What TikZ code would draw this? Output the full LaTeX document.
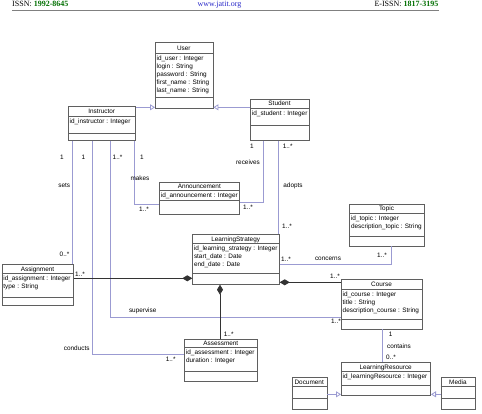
\documentclass[tikz,border=0pt]{standalone}
\usepackage{fontspec}
\setmainfont{Liberation Serif}
\setsansfont{Liberation Sans}
\usetikzlibrary{arrows.meta}

\definecolor{boxgray}{RGB}{95,95,95}
\definecolor{assoc}{RGB}{155,155,210}
\definecolor{issngreen}{RGB}{0,110,0}
\definecolor{linkblue}{RGB}{40,40,200}

% class box: name, left, top, right, bottom, name line, attribute line, title, attributes
\newcommand{\umlclass}[9]{%
  \node[classbox, anchor=north west, minimum width={(#4-#2)*1pt}, minimum height={(#5-#3)*1pt}] (#1) at (#2,#3) {};
  \draw[boxline] (#2,#6) -- (#4,#6) (#2,#7) -- (#4,#7);
  \node[classname] (#1-title) at ({(#2+#4)/2},{(#3+#6)/2}) {#8};
  \node[attrs] (#1-attrs) at (#2+1.5,#6+2.3) {#9};
}

\begin{document}
\begin{tikzpicture}[x=1pt,y=-1pt,
    every node/.style={font=\sffamily\fontsize{6.4}{8}\selectfont},
    boxline/.style={draw=boxgray, line width=0.7pt},
    classbox/.style={boxline, fill=white, rectangle, inner sep=0pt},
    classname/.style={inner sep=0pt, text height=4.6pt, text depth=0pt},
    attrs/.style={anchor=north west, inner sep=0pt, align=left},
    assoc/.style={draw=assoc, line width=0.8pt},
    inherit/.style={assoc, -{Triangle[open, length=5pt, width=6pt]}},
    compo/.style={draw=black!80, line width=0.8pt, -{Diamond[length=10pt, width=6pt]}},
    mult/.style={inner sep=0pt}]
  \useasboundingbox (0,0) rectangle (482,414);

  % page header
  \node[anchor=base west, inner sep=0pt, font=\rmfamily\fontsize{8}{9}\selectfont] (issn) at (12,7)
    {ISSN: \textcolor{issngreen}{\textbf{1992-8645}}};
  \node[anchor=base, inner sep=0pt, font=\rmfamily\fontsize{8}{9}\selectfont, text=linkblue] (site) at (219.5,7)
    {\underline{www.jatit.org}};
  \node[anchor=base east, inner sep=0pt, font=\rmfamily\fontsize{8}{9}\selectfont] (eissn) at (438.5,7)
    {E-ISSN: \textcolor{issngreen}{\textbf{1817-3195}}};
  \draw[gray, line width=0.8pt] (issn.base west |- 0,10.5) coordinate (h0) -- (h0 -| eissn.east);

  % classes
  \umlclass{user}{155}{42.3}{212.7}{107.7}{53.3}{97.3}{User}
    {id\_user : Integer\\login : String\\password : String\\first\_name : String\\last\_name : String}
  \umlclass{instr}{68}{106}{135.3}{140}{116.3}{133.3}{Instructor}{id\_instructor : Integer}
  \umlclass{student}{250.3}{98.7}{308.7}{140}{108.3}{125.3}{Student}{id\_student : Integer}
  \umlclass{ann}{159.3}{181.7}{239.3}{214}{190}{200.7}{Announcement}{id\_announcement : Integer}
  \umlclass{topic}{349.3}{204}{423.7}{245.7}{213.3}{236}{Topic}
    {id\_topic : Integer\\description\_topic : String}
  \umlclass{ls}{192.3}{234.3}{279}{284}{243.3}{273.3}{LearningStrategy}
    {id\_learning\_strategy : Integer\\start\_date : Date\\end\_date : Date}
  \umlclass{assign}{1.7}{264.3}{73.3}{305}{273.3}{297.7}{Assignment}
    {id\_assignment : Integer\\type : String}
  \umlclass{course}{341}{279.3}{422}{328.7}{289.3}{319}{Course}
    {id\_course : Integer\\title : String\\description\_course : String}
  \umlclass{assess}{184.3}{339.3}{257.3}{380.7}{347.3}{371.7}{Assessment}
    {id\_assessment : Integer\\duration : Integer}
  \umlclass{lr}{341}{361.7}{430.3}{395.3}{371.7}{385.5}{LearningResource}{id\_learningResource : Integer}
  \umlclass{doc}{291.7}{377.3}{326.7}{409}{386.3}{398.3}{Document}{}
  \umlclass{media}{440.5}{377.3}{475.3}{409}{386.3}{398.3}{Media}{}

  % generalisations
  \coordinate (i0) at ([yshift=-1.3pt]instr.north east);
  \coordinate (s0) at ([yshift=-8.6pt]student.north west);
  \draw[inherit] (i0) -- (i0 -| user.west);
  \draw[inherit] (s0) -- (s0 -| user.east);
  \coordinate (r0) at ([yshift=1.7pt]lr.south west);
  \coordinate (r1) at ([yshift=1.7pt]lr.south east);
  \draw[inherit] (r0 -| doc.east) -- (r0);
  \draw[inherit] (r1 -| media.west) -- (r1);

  % associations from Instructor
  \coordinate (i1) at ([xshift=4.6pt]instr.south west);
  \coordinate (i2) at ([xshift=24.7pt]instr.south west);
  \coordinate (i3) at ([xshift=42pt]instr.south west);
  \coordinate (i4) at ([xshift=-1.3pt]instr.south east);
  \draw[assoc] (i1) -- (i1 |- assign.north);
  \draw[assoc] (i2) |- ([yshift=-15pt]assess.north west);
  \draw[assoc] (i3) |- ([yshift=12pt]course.south west);
  \draw[assoc] (i4) |- ([yshift=-22.3pt]ann.north west);

  % associations from Student
  \coordinate (s1) at ([xshift=12.6pt]student.south west);
  \coordinate (s2) at ([xshift=28pt]student.south west);
  \draw[assoc] (s1) |- ([yshift=-20.6pt]ann.north east);
  \draw[assoc] (s2) -- (s2 |- ls.north);

  \draw[assoc] ([yshift=-29.7pt]ls.north east) -| ([xshift=42pt]topic.south west);
  \coordinate (c1) at ([xshift=41.7pt]course.south west);
  \draw[assoc] (c1) -- (c1 |- lr.north);

  % compositions on LearningStrategy
  \coordinate (a0) at ([yshift=-14pt]assign.north east);
  \draw[compo] (a0) -- (a0 -| ls.west);
  \coordinate (l1) at ([xshift=27.7pt]ls.south west);
  \draw[compo] (l1 |- assess.north) -- (l1);
  \coordinate (c0) at ([yshift=-3pt]course.north west);
  \draw[compo] (c0) -- (c0 -| ls.east);

  % multiplicities
  \foreach \x/\y/\t [count=\i] in {62/157/1, 83.3/157/1, 117.5/157/1..*, 142/157/1,
      64.5/254/0..*, 144/209/1..*, 252/146.7/1, 287.7/146.7/1..*, 248/207/1..*,
      287/226/1..*, 286/259/1..*, 382/255/1..*, 80/274/1..*, 170.7/359.3/1..*,
      228.7/334/1..*, 335/276.7/1..*, 336/321.7/1..*, 390.7/334/1, 391/357.7/0..*}
    \node[mult] (m\i) at (\x,\y) {\t};

  % association names
  \foreach \x/\y/\t [count=\i] in {64.3/185/sets, 140/178/makes, 248/162/receives,
      293/185.7/adopts, 328/259/concerns, 142.7/311/supervise, 76.7/348.3/conducts,
      399/346.7/contains}
    \node[mult] (n\i) at (\x,\y) {\t};
\end{tikzpicture}
\end{document}
